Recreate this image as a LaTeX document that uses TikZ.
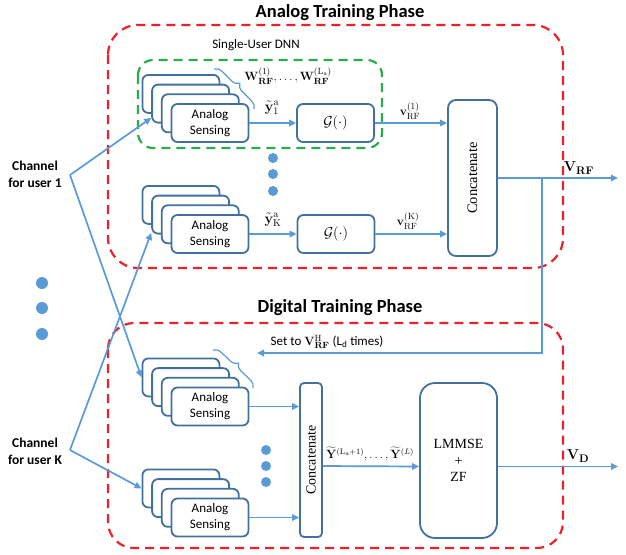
\documentclass[tikz,border=0pt]{standalone}
\usepackage[no-math]{fontspec}
\setmainfont{Carlito}
\newfontfamily\serfont{Liberation Serif}
\usetikzlibrary{arrows.meta,decorations.pathreplacing,calc}
\definecolor{linec}{RGB}{91,155,213}
\definecolor{boxc}{RGB}{65,113,156}
\definecolor{redd}{RGB}{235,35,40}
\definecolor{greend}{RGB}{45,170,75}
\newcommand{\sensestack}[3]{%
  \node[sbox] (#1a) at (#2-29.1,#3-29.1) {};
  \node[sbox] (#1b) at (#2-19.4,#3-19.4) {};
  \node[sbox] (#1c) at (#2-9.7,#3-9.7) {};
  \node[sbox] (#1d) at (#2,#3) {Analog\\Sensing};
}
\tikzset{
  sbox/.style={draw=boxc, line width=1.8pt, fill=white, rounded corners=6pt,
    minimum width=77pt, minimum height=38pt, inner sep=0pt, align=center,
    font=\fontsize{13}{16}\selectfont},
  gbox/.style={sbox, font=\fontsize{14}{16}\selectfont},
  catbox/.style={draw=boxc, line width=1.8pt, fill=white, inner sep=0pt},
  arr/.style={draw=linec, line width=1.7pt, -{Triangle[length=7pt,width=6.5pt]}},
  reddash/.style={draw=redd, line width=2.2pt, dash pattern=on 9pt off 6pt},
  greendash/.style={draw=greend, line width=2.2pt, dash pattern=on 9pt off 6pt},
  title/.style={font=\bfseries\fontsize{18.5}{20}\selectfont},
  chlab/.style={font=\bfseries\fontsize{13.5}{17}\selectfont, align=center},
  mlab/.style={font=\fontsize{13}{15}\selectfont, inner sep=0pt},
  ylab/.style={font=\fontsize{14.5}{16}\selectfont, inner sep=0pt},
  catlab/.style={rotate=90, font=\serfont\fontsize{14.5}{14.5}\selectfont},
  bracec/.style={draw=linec, line width=1.2pt, decorate,
    decoration={brace, amplitude=8pt}},
  dot/.style={fill=linec}
}
\begin{document}
\begin{tikzpicture}[x=1pt,y=-1pt]
\useasboundingbox (0,0) rectangle (626,554);
% phase boxes
\draw[reddash, rounded corners=30pt] (108,25) rectangle (563,268);
\draw[reddash, rounded corners=26pt] (108,323) rectangle (563,548);
\node[title] (tA) at (340,13) {Analog Training Phase};
\node[title] (tD) at (340,308) {Digital Training Phase};
% single-user DNN
\draw[greendash, rounded corners=15pt] (138,60) rectangle (382,148);
\node[font=\fontsize{13}{15}\selectfont] (sul) at (256,45) {Single-User DNN};
% analog stacks
\sensestack{sa}{210}{123}
\sensestack{sk}{210}{234}
\node[gbox] (g1) at (335.5,123) {$\mathcal{G}(\cdot)$};
\node[gbox] (gk) at (336,234) {$\mathcal{G}(\cdot)$};
\node[catbox, rounded corners=8pt, minimum width=49pt, minimum height=156pt] (acat) at (472.5,178) {};
\node[catlab] (acatl) at (acat.center) {Concatenate};
% digital stacks
\sensestack{da}{210}{406.5}
\sensestack{dk}{210}{517.5}
\node[catbox, rounded corners=4pt, minimum width=22pt, minimum height=154pt] (dcat) at (311,460) {};
\node[catlab, font=\serfont\fontsize{14}{14}\selectfont] (dcatl) at (dcat.center) {Concatenate};
\node[catbox, rounded corners=15pt, minimum width=77pt, minimum height=155pt,
  align=center, font=\serfont\fontsize{14}{16.5}\selectfont] (lm) at (458.5,460.5) {LMMSE\\+\\ZF};
% braces
\draw[bracec] (214,69) -- (254,109);
\draw[bracec] (213,350) -- (253,388);
% dots
\foreach \yy in {158,174,191} \fill[dot] (273,\yy) circle[radius=5pt];
\foreach \yy in {450,466,482} \fill[dot] (266,\yy) circle[radius=5pt];
\foreach \yy in {283,308,334} \fill[dot] (42,\yy) circle[radius=6pt];
% channel labels
\node[chlab] (c1l) at (35,174) {Channel\\for user 1};
\node[chlab] (ckl) at (35,451) {Channel\\for user K};
\coordinate (c1) at (70,175);
\coordinate (ck) at (70,450);
\draw[arr] (c1) -- (sab.200);
\draw[arr] (c1) -- (daa.west);
\draw[arr] (ck) -- (skb.205);
\draw[arr] (ck) -- (dka.west);
% analog connectors
\draw[arr] (sad.east) -- (g1.west);
\draw[arr] (skd.east) -- (gk.west);
\draw[arr] (g1.east) -- (g1.east -| acat.west);
\draw[arr] (gk.east) -- (gk.east -| acat.west);
\coordinate (vrfend) at (618,178);
\draw[arr] (acat.east) -- (vrfend);
\coordinate (jn) at (542,178);
\coordinate (fbend) at (257,353);
\draw[arr] (jn) -- (jn |- fbend) -- (fbend);
% digital connectors
\draw[arr] (dad.east) -- (dad.east -| dcat.west);
\draw[arr] (dkd.east) -- (dkd.east -| dcat.west);
\draw[arr] ([yshift=-6pt]dcat.east) -- ([yshift=-6pt]lm.west);
\coordinate (vdend) at (618,466.5);
\draw[arr] ([yshift=-6pt]lm.east) -- (vdend);
% labels
\node[mlab] (wl) at (288,76) {$\mathbf{W}_{\mathbf{RF}}^{(1)},\ldots,\mathbf{W}_{\mathbf{RF}}^{(\mathrm{L_a})}$};
\node[ylab] (y1l) at (272,108) {$\tilde{\mathbf{y}}_{1}^{\mathrm{a}}$};
\node[mlab] (v1l) at (410,111) {$\mathbf{v}_{\mathrm{RF}}^{(1)}$};
\node[ylab] (ykl) at (273,220) {$\tilde{\mathbf{y}}_{\mathrm{K}}^{\mathrm{a}}$};
\node[mlab] (vkl) at (408,221) {$\mathbf{v}_{\mathrm{RF}}^{(\mathrm{K})}$};
\node[mlab, font=\fontsize{15}{17}\selectfont] (vrfl) at (579,168) {$\mathbf{V}_{\mathbf{RF}}$};
\node[mlab] (setl) at (327,342) {Set to $\mathbf{V}_{\mathbf{RF}}^{\mathrm{H}}$ (L\textsubscript{d} times)};
\node[mlab, font=\fontsize{12}{14}\selectfont] (yyl) at (370,454) {$\widetilde{\mathbf{Y}}^{(\mathrm{L_a}+1)},\ldots,\widetilde{\mathbf{Y}}^{(L)}$};
\node[mlab, font=\fontsize{15}{17}\selectfont] (vdl) at (578,456) {$\mathbf{V}_{\mathbf{D}}$};
\end{tikzpicture}
\end{document}
